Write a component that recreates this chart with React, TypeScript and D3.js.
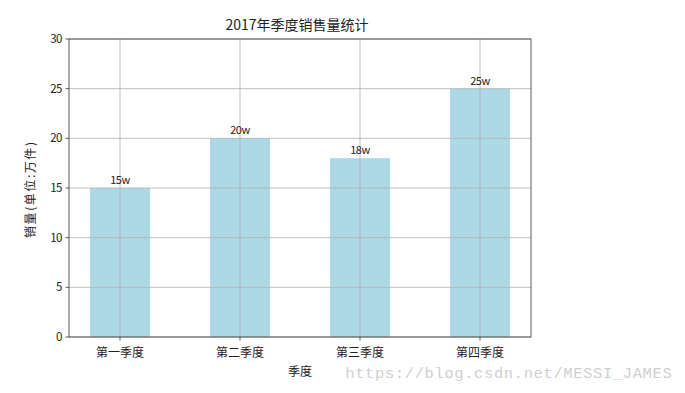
import React from "react";
import * as d3 from "d3";

const categories = ["第一季度", "第二季度", "第三季度", "第四季度"];
const sales = [15, 20, 18, 25];
const barLabels = ["15w", "20w", "18w", "25w"];
const yTicks = [0, 5, 10, 15, 20, 25, 30];
const watermark = "https://blog.csdn.net/MESSI_JAMES";

const W = 685, H = 393;
const L = 69, R = 531, T = 39, B = 337;
const FONT = "'Noto Sans CJK SC', 'DejaVu Sans', sans-serif";

export default function App() {
  const x = d3.scaleLinear().domain([-0.425, 3.425]).range([L, R]);
  const y = d3.scaleLinear().domain([0, 30]).range([B, T]);
  const bw = x(0.25) - x(-0.25);
  const wm = d3.scaleLinear().domain([0, watermark.length]).range([345, 672]);
  return (
    <svg width={W} height={H} style={{ position: "absolute", left: 0, top: 0, background: "#fff" }}>
      <rect x={0} y={0} width={W} height={H} fill="#fff" />
      {sales.map((v, i) => (
        <rect key={"b" + i} x={x(i) - bw / 2} y={y(v)} width={bw} height={B - y(v)} fill="#add8e6" />
      ))}
      {yTicks.map((t) => (
        <line key={"gy" + t} x1={L} x2={R} y1={y(t)} y2={y(t)} stroke="#b0b0b0" strokeWidth={0.8} />
      ))}
      {categories.map((c, i) => (
        <line key={"gx" + i} x1={x(i)} x2={x(i)} y1={T} y2={B} stroke="#b0b0b0" strokeWidth={0.8} />
      ))}
      <rect x={L} y={T} width={R - L} height={B - T} fill="none" stroke="#333" strokeWidth={0.8} />
      {yTicks.map((t) => (
        <g key={"ty" + t}>
          <line x1={L - 3.5} x2={L} y1={y(t)} y2={y(t)} stroke="#333" strokeWidth={0.8} />
          <text x={L - 7} y={y(t) + 4} textAnchor="end" fontSize={11.5} fontFamily={FONT} fill="#222" style={{ letterSpacing: "-0.5px" }}>
            {t}
          </text>
        </g>
      ))}
      {categories.map((c, i) => (
        <g key={"tx" + i}>
          <line x1={x(i)} x2={x(i)} y1={B} y2={B + 3.5} stroke="#333" strokeWidth={0.8} />
          <text x={x(i)} y={B + 20} textAnchor="middle" fontSize={12} fontFamily={FONT} fill="#222">
            {c}
          </text>
        </g>
      ))}
      {sales.map((v, i) => (
        <text key={"l" + i} x={x(i)} y={y(v) - 4} textAnchor="middle" fontSize={11} fontFamily={FONT} fill="#222" style={{ letterSpacing: "-0.5px" }}>
          {barLabels[i]}
        </text>
      ))}
      <text x={(L + R) / 2 - 3} y={30} textAnchor="middle" fontSize={14} fontFamily={FONT} fill="#222">
        2017年季度销售量统计
      </text>
      <text x={(L + R) / 2} y={376} textAnchor="middle" fontSize={12} fontFamily={FONT} fill="#222">
        季度
      </text>
      <text transform={`translate(35, ${(T + B) / 2 + 2}) rotate(-90)`} x={-48} fontSize={12} fontFamily={FONT} fill="#222" textLength={96} lengthAdjust="spacing">
        销量(单位:万件)
      </text>
      {watermark.split("").map((ch, i) => (
        <text key={"w" + i} x={wm(i + 0.5)} y={378} textAnchor="middle" fontSize={15.5} fontFamily="'Liberation Mono', 'DejaVu Sans Mono', monospace" fill="#cfcfcf">
          {ch}
        </text>
      ))}
    </svg>
  );
}
